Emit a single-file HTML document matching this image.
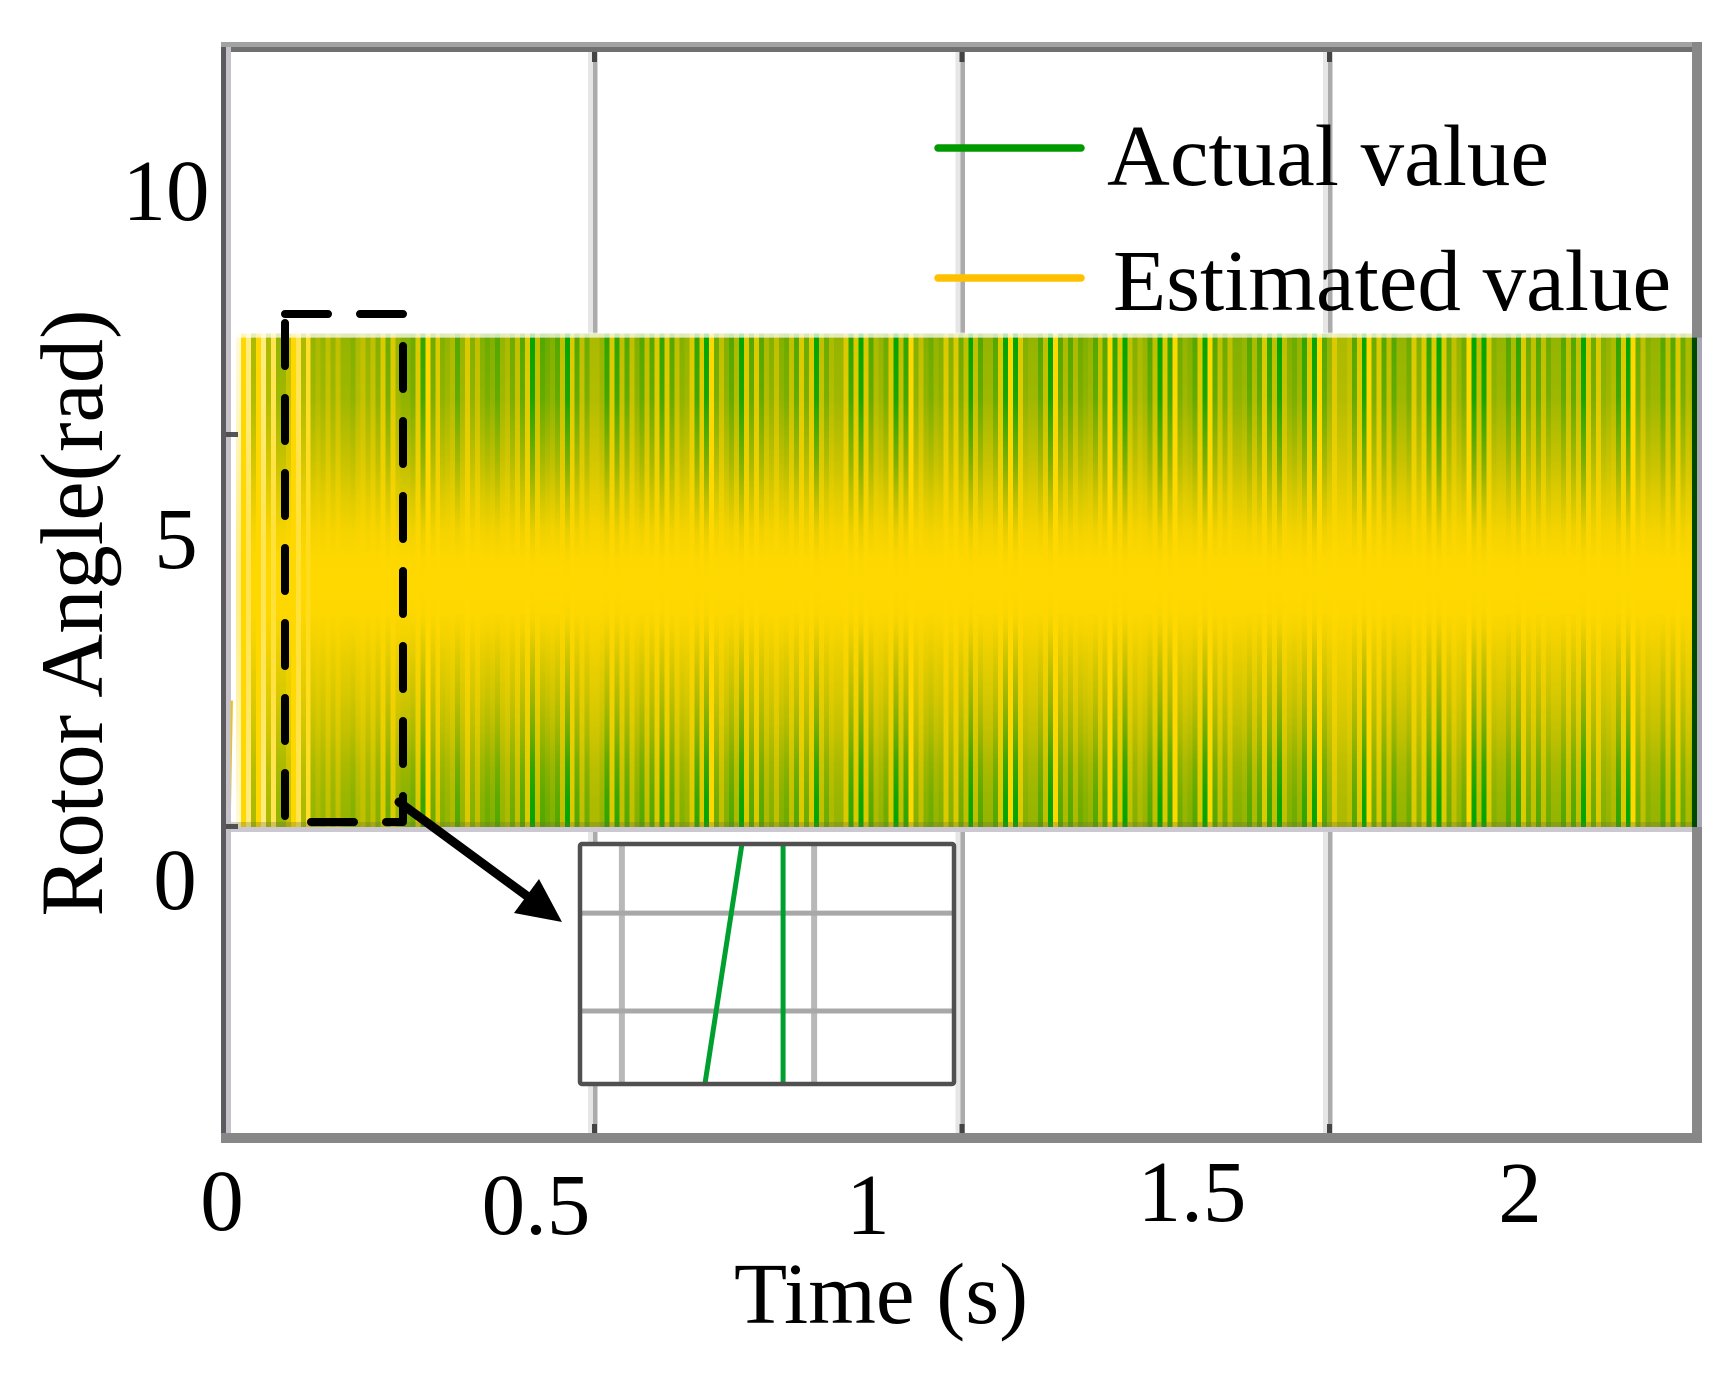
<!DOCTYPE html>
<html lang="en">
<head>
<meta charset="utf-8">
<title>Rotor Angle chart</title>
<style>
html,body{margin:0;padding:0;background:#fff;}
svg{display:block;}
text{font-family:"Liberation Serif",serif;font-size:87px;fill:#000;}
</style>
</head>
<body>
<svg id="chart" xmlns="http://www.w3.org/2000/svg" width="1735" height="1375" viewBox="0 0 1735 1375">
  <rect x="0" y="0" width="1735" height="1375" fill="#fff"/>
  <defs id="defs"></defs>
  <g id="grid"></g>
  <g id="band"></g>
  <g id="frame">
    <rect x="221" y="42" width="1481" height="5" fill="#a2a2a2"/>
    <rect x="221" y="47" width="1481" height="5" fill="#707070"/>
    <rect x="226" y="47" width="5" height="1090" fill="#c4c2c8"/>
    <rect x="221" y="47" width="5" height="1090" fill="#5c5a5e"/>
    <rect x="1692" y="42" width="10" height="1101" fill="#888"/>
    <rect x="221" y="1133" width="1481" height="10" fill="#878787"/>
  </g>
  <g id="ticks"></g>
  <g id="inset"></g>

  <path d="M285 314H403V822H285V314" fill="none" stroke="#000" stroke-width="8" stroke-linecap="round" stroke-linejoin="round" stroke-dasharray="43 32"/>
  <line x1="399" y1="802" x2="527" y2="896" stroke="#000" stroke-width="9" stroke-linecap="round"/>
  <polygon points="539,879 514,913 562,922" fill="#000"/>

  <g>
    <g>
      <line x1="938" y1="148" x2="1081" y2="148" stroke="#009a00" stroke-width="7.5" stroke-linecap="round"/>
      <text x="1107" y="185">Actual value</text>
    </g>
    <g>
      <line x1="938" y1="278" x2="1081" y2="278" stroke="#ffc000" stroke-width="7.5" stroke-linecap="round"/>
      <text x="1113" y="310">Estimated value</text>
    </g>
  </g>

  <g>
    <text x="166" y="220" text-anchor="middle">10</text>
    <text x="176" y="568" text-anchor="middle">5</text>
    <text x="175" y="909" text-anchor="middle">0</text>
  </g>
  <g>
    <text x="222" y="1230" text-anchor="middle">0</text>
    <text x="536" y="1234" text-anchor="middle">0.5</text>
    <text x="868" y="1234" text-anchor="middle">1</text>
    <text x="1192" y="1221" text-anchor="middle">1.5</text>
    <text x="1520" y="1222" text-anchor="middle">2</text>
  </g>
  <text x="881" y="1323" text-anchor="middle">Time (s)</text>
  <text transform="translate(102 613)rotate(-90)" text-anchor="middle" style="font-size:88.5px">Rotor Angle(rad)</text>
</svg>
<script>
// Axis ticks
var xGridTimes = [0.5, 1, 1.5];
var yTickAngles = [0, 5];

// Extents of the traces
var bandTimeRange = [0.0143, 2.0];
var bandAngleRange = [0, 6.28];

// First electrical cycle (start-up ramp, visible part)
var startupTimes = [0.003, 0.006];
var startupAngles = [0, 1.6];

// Share of the actual-value trace visible at each angle level
var profileAngles = [6.28, 5.47, 4.63, 4.2, 3.78, 3.43, 3.1, 2.72, 2.5, 2.08, 1.65, 1.22, 0.8, 0.37, 0];
var profileWeights = [1, 0.9, 0.5, 0.28, 0.1, 0.02, 0, 0.02, 0.08, 0.23, 0.38, 0.56, 0.78, 0.94, 1];

var columnsPart1 = [-5,0,-3,3,0,-3,3,-2,4,4,2,0,-2,3,-1,4,3,4,2,4,2,4,4,5,3,2,4,2,5,1,6,1,4,5,5,6,1,8,0,6,1,5,4,3,7,4,1,5,2,5,6,5,7,4,3,6,2,7,1,9,2,7,6,5,7,2,9,1,7,2,6,3];
var columnsPart2 = [3,4,8,1,8,2,7,2,5,7,2,7,1,8,1,7,2,5,4,1,8,1,9,0,6,2,5,7,3,9,1,7,1,7,3,5,2,5,6,2,7,1,6,1,9,2,6,3,4,4,1,8,1,9,1,7,3,4,6,1,9,2,8,0,5,2,5,6,4,5,1,5,1,6];
var columnsPart3 = [2,9,2,7,4,4,7,1,9,0,9,1,5,4,4,7,2,9,0,7,3,7,3,6,5,4,7,2,7,0,8,1,9,2,5,3,4,7,2,9,1,8,0,6,4,5,7,1,9,0,7,2,6,2,5,5,4,7,3,7,1,8,2,9,2,5,6,4,8,1,9,0,7,4];
var columnsPart4 = [1,3,3,2,7,1,9,0,6,1,7,2,7,4,4,6,1,5,1,8,1,9,1,6,2,4,6,0,9,2,9,1,5,4,4,7,3,8,1,6,2,7,2,6,4,4,7,2,7,2,9,1,6,1,5,4,3,8,1,9,0,6,2,5,4,4,7,2,7,1,6,3,4];

// Zoomed inset series (normalised inset axes)
var insetRampTimes = [0.334, 0.433];
var insetRampLevels = [0, 1];
var insetDropTimes = [0.543, 0.543];
var insetDropLevels = [0, 1];
var insetGridTimes = [0.112, 0.626];
var insetGridLevels = [0.304, 0.712];

function xScale(t){ return 225.5 + 735 * t; }
function yScale(a){ return 826 - 78.4 * a; }
function insetX(t){ return 580 + 374 * t; }
function insetY(v){ return 1084 - 240 * v; }

var NS = 'http://www.w3.org/2000/svg';
function make(tag, attrs, parent){
  var el = document.createElementNS(NS, tag);
  for (var k in attrs) el.setAttribute(k, attrs[k]);
  parent.appendChild(el);
  return el;
}
function strength(g){
  var lo = Math.floor(g), hi = Math.min(9, lo + 1), f = g - lo;
  var curve = [0, 0.14, 0.25, 0.33, 0.42, 0.49, 0.58, 0.68, 0.82, 1];
  return curve[lo] * (1 - f) + curve[hi] * f;
}
function mixColor(g, weight){
  if (g < 0) {
    var p = -g / 6;
    var pale = 1 - 0.35 * (1 - weight);
    p = p * pale;
    return 'rgb(255,' + Math.round(216 + 39 * p) + ',' + Math.round(255 * p) + ')';
  }
  var w = strength(g) * weight;
  var r = 255 * (1 - w);
  var gr = 216 * (1 - w) + 165 * w - 60 * w * (1 - w);
  return 'rgb(' + Math.round(r) + ',' + Math.round(gr) + ',0)';
}

var defs = document.getElementById('defs');
var gridG = document.getElementById('grid');
var bandG = document.getElementById('band');
var tickG = document.getElementById('ticks');
var insetG = document.getElementById('inset');

// Grid lines
xGridTimes.forEach(function(t){
  var x = xScale(t);
  var soft = make('rect', {x: x - 5, y: 52, width: 5, height: 1081, fill: '#e6e6e6'}, gridG);
  
  
  var line = make('rect', {x: x, y: 52, width: 4.5, height: 1081, fill: '#ababab'}, gridG);
  
  
});

// Trace columns
var allColumns = columnsPart1.concat(columnsPart2, columnsPart3, columnsPart4);
var dt = (bandTimeRange[1] - bandTimeRange[0]) / allColumns.length;
var angleSpan = bandAngleRange[1] - bandAngleRange[0];
allColumns.forEach(function(g, i){
  var id = 'col' + i;
  var grad = make('linearGradient', {id: id, x1: 0, y1: 0, x2: 0, y2: 1}, defs);
  profileAngles.forEach(function(a, j){
    make('stop', {offset: ((bandAngleRange[1] - a) / angleSpan).toFixed(4), 'stop-color': mixColor(g, profileWeights[j])}, grad);
  });
  var t0 = bandTimeRange[0] + i * dt;
  var x0 = xScale(t0);
  var x1 = xScale(t0 + dt);
  var yTop = yScale(bandAngleRange[1]);
  var yBot = yScale(bandAngleRange[0]);
  var col = make('rect', {x: x0.toFixed(2), y: yTop, width: (x1 - x0 + 0.4).toFixed(2), height: yBot - yTop + 1, fill: 'url(#' + id + ')', 'shape-rendering': 'crispEdges'}, bandG);
  
  
});

// Start-up ramp
var ramp = make('polyline', {
  points: startupTimes.map(function(t, i){ return xScale(t) + ',' + yScale(startupAngles[i]); }).join(' '),
  fill: 'none', stroke: '#f0c400', 'stroke-width': 6
}, bandG);



// Band edges
var bandX0 = xScale(bandTimeRange[0]);
var bandX1 = xScale(bandTimeRange[1]);
var capTop = make('rect', {x: bandX0, y: yScale(bandAngleRange[1]) - 1, width: bandX1 - bandX0, height: 5, fill: '#fff', opacity: 0.72}, bandG);


var capBottomDark = make('rect', {x: 226, y: yScale(0) - 4, width: bandX1 - 226, height: 5, fill: '#707040', opacity: 0.3}, bandG);


var capBottomLight = make('rect', {x: 231, y: yScale(0) + 1, width: bandX1 - 231, height: 5, fill: '#cbc8d4'}, bandG);



// Right-hand frame where the traces meet it
var endDark = make('rect', {x: 1692, y: yScale(bandAngleRange[1]) + 4, width: 5, height: yScale(0) - yScale(bandAngleRange[1]) - 3, fill: '#004a00'}, document.getElementById('frame'));


var endLight = make('rect', {x: 1697, y: yScale(bandAngleRange[1]) + 4, width: 5, height: yScale(0) - yScale(bandAngleRange[1]) - 3, fill: '#a8a5b4'}, document.getElementById('frame'));



// Ticks
xGridTimes.forEach(function(t){
  var x = xScale(t);
  var bottom = make('rect', {x: x - 1, y: 1124, width: 5, height: 9, fill: '#444'}, tickG);
  
  
  var top = make('rect', {x: x - 1, y: 52, width: 5, height: 10, fill: '#444'}, tickG);
  
  
});
yTickAngles.forEach(function(a){
  var y = yScale(a);
  var left = make('rect', {x: 226, y: y - 2, width: 12, height: 5, fill: '#444', opacity: 0.9}, tickG);
  
  
});

// Inset
var insetBg = make('rect', {x: insetX(0), y: insetY(1), width: insetX(1) - insetX(0), height: insetY(0) - insetY(1), fill: '#fff'}, insetG);


insetGridTimes.forEach(function(t){
  var v = make('line', {x1: insetX(t), x2: insetX(t), y1: insetY(0), y2: insetY(1), stroke: '#b8b8b8', 'stroke-width': 6}, insetG);
  
  
});
insetGridLevels.forEach(function(l){
  var h = make('line', {x1: insetX(0), x2: insetX(1), y1: insetY(l), y2: insetY(l), stroke: '#a8a8a8', 'stroke-width': 5}, insetG);
  
  
});
var insetRamp = make('polyline', {
  points: insetRampTimes.map(function(t, i){ return insetX(t) + ',' + insetY(insetRampLevels[i]); }).join(' '),
  fill: 'none', stroke: '#00a030', 'stroke-width': 5
}, insetG);


var insetDrop = make('polyline', {
  points: insetDropTimes.map(function(t, i){ return insetX(t) + ',' + insetY(insetDropLevels[i]); }).join(' '),
  fill: 'none', stroke: '#00a030', 'stroke-width': 5
}, insetG);


var insetBorder = make('rect', {x: insetX(0), y: insetY(1), width: insetX(1) - insetX(0), height: insetY(0) - insetY(1), fill: 'none', stroke: '#505050', 'stroke-width': 4.5, rx: 2}, insetG);


</script>
</body>
</html>
